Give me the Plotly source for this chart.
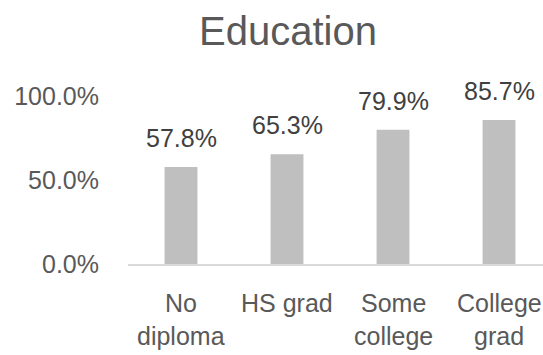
import plotly.graph_objects as go

# Share of respondents by education level
categories = ["No diploma", "HS grad", "Some college", "College grad"]
category_lines = [["No", "diploma"], ["HS grad"], ["Some", "college"], ["College", "grad"]]
values = [57.8, 65.3, 79.9, 85.7]
y_ticks = [0, 50, 100]
y_tick_labels = ["0.0%", "50.0%", "100.0%"]

FONT = "Liberation Sans Narrow, Arial Narrow, Liberation Sans, Arial, sans-serif"

fig = go.Figure()
fig.add_trace(go.Bar(
    x=categories,
    y=values,
    width=0.31,
    marker=dict(color="#bfbfbf", line=dict(width=0)),
    hoverinfo="skip",
))

annotations = []
# value labels above bars
for cat, v in zip(categories, values):
    annotations.append(dict(
        x=cat, y=v, xref="x", yref="y", text=f"{v:.1f}%",
        showarrow=False, yanchor="middle", yshift=29,
        font=dict(family=FONT, size=25, color="#404040"),
    ))
# category labels, one annotation per line for tight line spacing
for cat, lines in zip(categories, category_lines):
    for i, line in enumerate(lines):
        annotations.append(dict(
            x=cat, y=0, xref="x", yref="y", text=line,
            showarrow=False, yanchor="middle", yshift=-39 - 33 * i,
            font=dict(family=FONT, size=25, color="#595959"),
        ))

fig.update_layout(
    width=543, height=355,
    margin=dict(l=128, r=0, t=96, b=91),
    paper_bgcolor="white", plot_bgcolor="white",
    showlegend=False,
    title=dict(
        text="Education", xref="container", yref="container",
        x=288 / 543, xanchor="center", y=1 - 31 / 355, yanchor="middle",
        font=dict(family=FONT, size=40, color="#595959"),
    ),
    xaxis=dict(
        range=[-0.5, 3.415], showticklabels=False, showgrid=False,
        showline=True, linecolor="#d9d9d9", linewidth=1.5, ticks="",
        zeroline=False, fixedrange=True,
    ),
    yaxis=dict(
        range=[0, 100], tickvals=y_ticks, ticktext=y_tick_labels,
        showgrid=False, zeroline=False, showline=False, ticks="",
        ticklabelstandoff=28,
        tickfont=dict(family=FONT, size=25, color="#595959"),
    ),
    annotations=annotations,
)

fig.write_html("out.html")
